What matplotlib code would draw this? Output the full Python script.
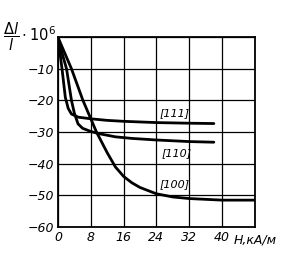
import matplotlib
matplotlib.use("Agg")
import matplotlib.pyplot as plt

# кривые магнитострикции, значения
h_111 = [0, 1, 1.8, 2.5, 3.3, 5, 8, 12, 16, 24, 32, 38]
l_111 = [0, -10, -19, -22.5, -24.3, -25.3, -25.8, -26.3, -26.6, -27, -27.2, -27.3]

h_110 = [0, 1, 2.1, 3.3, 4, 4.9, 6, 8, 10, 14, 18, 24, 32, 38]
l_110 = [0, -5, -10, -20, -24, -27.4, -28.8, -29.8, -30.5, -31.5, -32, -32.5, -33, -33.2]

h_100 = [0, 3.3, 6.1, 9.4, 12, 14, 16, 18, 20, 24, 28, 32, 40, 48]
l_100 = [0, -10, -20, -30, -36.5, -41, -44, -46, -47.5, -49.5, -50.5, -51, -51.5, -51.5]

xticks = [0, 8, 16, 24, 32, 40]
yticks = [-10, -20, -30, -40, -50, -60]
names = ["[111]", "[110]", "[100]"]
name_pos = [(28.5, -24), (29, -36.6), (28.5, -46.4)]

fig = plt.figure(figsize=(2.94, 2.69), dpi=100)
ax = fig.add_axes([0.197, 0.156, 0.67, 0.706])

for h, l in [(h_111, l_111), (h_110, l_110), (h_100, l_100)]:
    ax.plot(h, l, color="black", lw=2.0, solid_capstyle="round")

for n, (x, y) in zip(names, name_pos):
    ax.text(x, y, n, fontsize=8, style="italic", ha="center", va="center")

ax.set_xlim(0, 48)
ax.set_ylim(-60, 0)
ax.set_xticks(xticks + [48])
ax.set_yticks(yticks + [0])
ax.grid(True, color="black", lw=0.9)
ax.set_xticklabels([str(t) for t in xticks] + [""], fontsize=9, style="italic")
ax.set_yticklabels(["\u2212%d" % -t for t in yticks] + [""], fontsize=9, style="italic")
ax.tick_params(length=0, pad=3)
for s in ax.spines.values():
    s.set_linewidth(1.3)

ax.text(1.0, -0.035, "H,кА/м", transform=ax.transAxes, fontsize=9, style="italic",
        ha="center", va="top")
fig.text(56 / 294, 1 - 37 / 269, r"$\dfrac{\Delta l}{l}\cdot\mathit{10}^{6}$",
         fontsize=10.5, ha="right", va="center")

fig.savefig("out.png", dpi=100)
